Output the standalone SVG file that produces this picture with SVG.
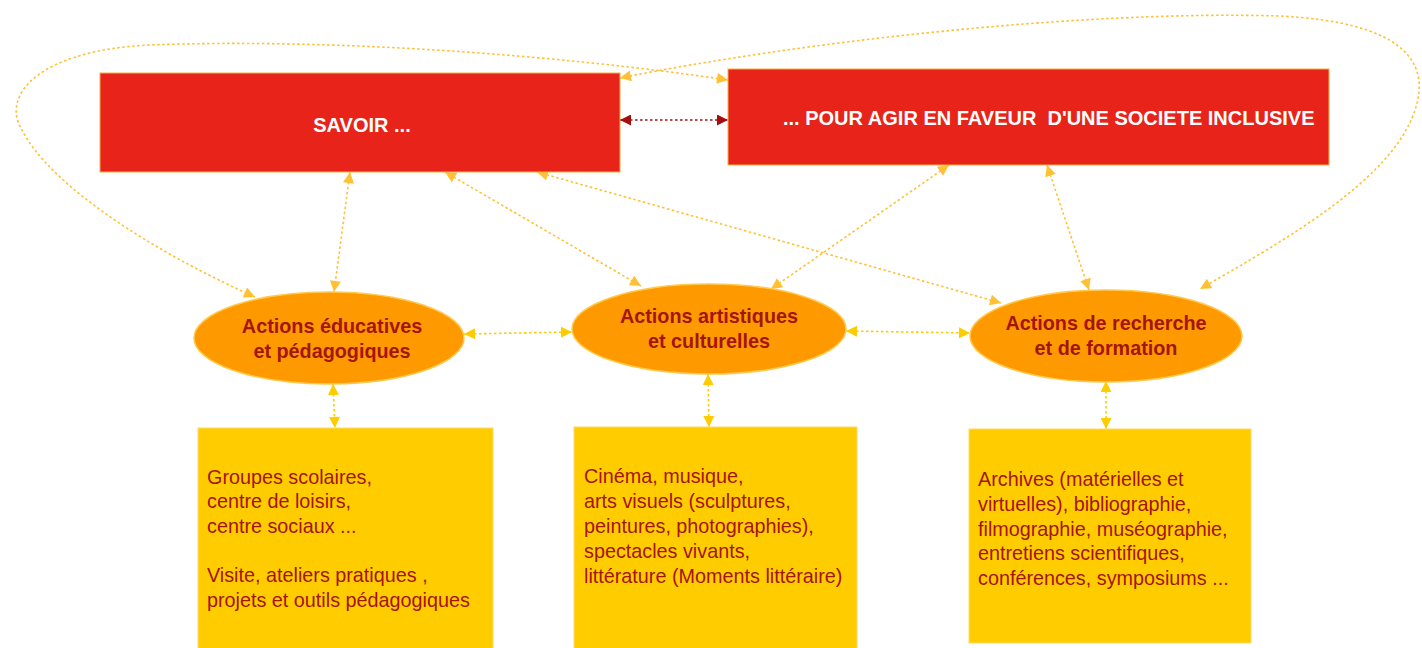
<svg xmlns="http://www.w3.org/2000/svg" width="1422" height="648" viewBox="0 0 1422 648">
<defs>
<marker id="ay" viewBox="0 0 10 10" refX="10" refY="5" markerWidth="12" markerHeight="11" markerUnits="userSpaceOnUse" orient="auto-start-reverse"><path d="M0,0 L10,5 L0,10 z" fill="#FFC133"/></marker>
<marker id="ay2" viewBox="0 0 10 10" refX="10" refY="5" markerWidth="12" markerHeight="11" markerUnits="userSpaceOnUse" orient="auto-start-reverse"><path d="M0,0 L10,5 L0,10 z" fill="#FFCC00"/></marker>
<marker id="ar" viewBox="0 0 10 10" refX="10" refY="5" markerWidth="12" markerHeight="11" markerUnits="userSpaceOnUse" orient="auto-start-reverse"><path d="M0,0 L10,5 L0,10 z" fill="#A50E0E"/></marker>
</defs>
<style>
.top{fill:#E8231A;stroke:#F5B041;stroke-width:1}
.ttl{font-family:"Liberation Sans",Arial,sans-serif;font-weight:bold;font-size:20px;fill:#FFFFFF;white-space:pre}
.ell{fill:#FF9900;stroke:#FFC94D;stroke-width:1.5}
.et{font-family:"Liberation Sans",Arial,sans-serif;font-weight:bold;font-size:19.8px;fill:#A3150F;text-anchor:middle}
.box{fill:#FFCC00;stroke:#FFD966;stroke-width:1}
.bt{font-family:"Liberation Sans",Arial,sans-serif;font-size:19.8px;fill:#A3150F}
.c{fill:none;stroke:#FFC133;stroke-width:1.6;stroke-dasharray:2.5 2.5;marker-start:url(#ay);marker-end:url(#ay)}
.c2{fill:none;stroke:#FFCC00;stroke-width:1.6;stroke-dasharray:2.5 2.5;marker-start:url(#ay2);marker-end:url(#ay2)}
.cr{fill:none;stroke:#A50E0E;stroke-width:1.6;stroke-dasharray:2.5 2.5;marker-start:url(#ar);marker-end:url(#ar)}
</style>
<rect width="1422" height="648" fill="#FFFFFF"/>
<g id="connectors">
<path class="cr" d="M620,120 L728,120"/>
<path class="c" d="M728,80 C560,55 330,38 150,45 C40,50 0,95 22,130 C50,185 150,250 255,297"/>
<path class="c" d="M620,78 C800,42 1080,10 1280,16 C1400,22 1432,60 1415,110 C1392,180 1285,240 1200,289"/>
<path class="c" d="M350,172 L334,292"/>
<path class="c" d="M445,172 L641,286"/>
<path class="c" d="M537,172 L1001,303"/>
<path class="c" d="M949,165 L771,289"/>
<path class="c" d="M1047,165 L1089,290"/>
<path class="c2" d="M464,334 L572,332"/>
<path class="c2" d="M846,331 L970,333"/>
<path class="c2" d="M333,384 L335,428"/>
<path class="c2" d="M708,374 L709,427"/>
<path class="c2" d="M1106,381 L1106,429"/>
</g>
<g id="savoir">
<rect class="top" x="100" y="73" width="520" height="99"/>
<text class="ttl" x="362" y="132" text-anchor="middle">SAVOIR ...</text>
</g>
<g id="agir">
<rect class="top" x="728" y="69" width="601" height="96"/>
<text class="ttl" x="783" y="125" xml:space="preserve">... POUR AGIR EN FAVEUR  D'UNE SOCIETE INCLUSIVE</text>
</g>
<g id="educ">
<ellipse class="ell" cx="329" cy="338" rx="135" ry="46"/>
<text class="et" x="332" y="333">Actions éducatives</text>
<text class="et" x="332" y="358">et pédagogiques</text>
</g>
<g id="art">
<ellipse class="ell" cx="709" cy="329" rx="137" ry="45"/>
<text class="et" x="709" y="323">Actions artistiques</text>
<text class="et" x="709" y="348">et culturelles</text>
</g>
<g id="rech">
<ellipse class="ell" cx="1106" cy="336" rx="136" ry="46"/>
<text class="et" x="1106" y="330">Actions de recherche</text>
<text class="et" x="1106" y="355">et de formation</text>
</g>
<g id="box-educ">
<rect class="box" x="198" y="428" width="295" height="225"/>
<text class="bt" x="207" y="484">Groupes scolaires,</text>
<text class="bt" x="207" y="508">centre de loisirs,</text>
<text class="bt" x="207" y="533">centre sociaux ...</text>
<text class="bt" x="207" y="582">Visite, ateliers pratiques ,</text>
<text class="bt" x="207" y="607">projets et outils pédagogiques</text>
</g>
<g id="box-art">
<rect class="box" x="574" y="427" width="283" height="226"/>
<text class="bt" x="584" y="483">Cinéma, musique,</text>
<text class="bt" x="584" y="508">arts visuels (sculptures,</text>
<text class="bt" x="584" y="533">peintures, photographies),</text>
<text class="bt" x="584" y="558">spectacles vivants,</text>
<text class="bt" x="584" y="583">littérature (Moments littéraire)</text>
</g>
<g id="box-rech">
<rect class="box" x="969" y="429" width="282" height="214"/>
<text class="bt" x="978" y="486">Archives (matérielles et</text>
<text class="bt" x="978" y="511">virtuelles), bibliographie,</text>
<text class="bt" x="978" y="536">filmographie, muséographie,</text>
<text class="bt" x="978" y="560">entretiens scientifiques,</text>
<text class="bt" x="978" y="585">conférences, symposiums ...</text>
</g>
</svg>
